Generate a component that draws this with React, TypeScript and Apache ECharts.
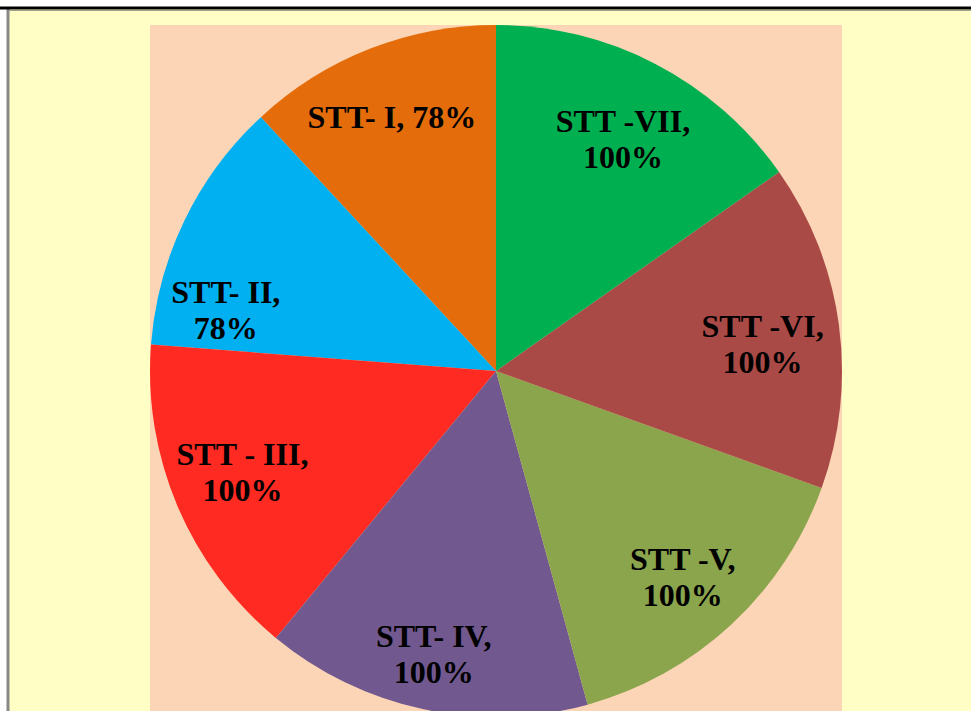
import React, { useEffect, useRef } from "react";
import * as echarts from "echarts";

const categories = ["STT- I", "STT- II", "STT - III", "STT- IV", "STT -V", "STT -VI", "STT -VII"];
const values = [78, 78, 100, 100, 100, 100, 100];
const sliceColors = ["#E46C0A", "#00B0F0", "#FF2A22", "#71588F", "#8BA54D", "#AA4A46", "#00B050"];

export default function App() {
  const ref = useRef<HTMLDivElement>(null);
  useEffect(() => {
    if (!ref.current) return;
    const chart = echarts.init(ref.current, null, { renderer: "svg" });
    const data = categories.map((name, i) => ({ name, value: values[i], itemStyle: { color: sliceColors[i] } }));
    const labelOffsets: Record<number, number[]> = { 0: [-6, -4], 1: [-28, 56], 2: [-6, -4], 3: [-6, 20], 4: [4, 9], 5: [0, 9], 6: [3, 7] };
    const labelData = categories.map((name, i) => ({
      name,
      value: values[i],
      itemStyle: { color: "rgba(0,0,0,0)" },
      label: labelOffsets[i] ? { offset: labelOffsets[i] } : {},
    }));
    chart.setOption({
      animation: false,
      backgroundColor: "#FFFFFF",
      graphic: [
        { type: "rect", shape: { x: 8, y: 8, width: 980, height: 720 }, style: { fill: "#FFFFC5" }, z: -10 },
        { type: "rect", shape: { x: 150, y: 25, width: 692, height: 700 }, style: { fill: "#FBD5B5" }, z: -9 },
        { type: "line", shape: { x1: 8, y1: 9, x2: 8, y2: 720 }, style: { stroke: "#888888", lineWidth: 3 }, z: 10 },
        { type: "line", shape: { x1: 0, y1: 8, x2: 971, y2: 8 }, style: { stroke: "#000000", lineWidth: 3 }, z: 10 },
        { type: "line", shape: { x1: 9, y1: 10.5, x2: 971, y2: 10.5 }, style: { stroke: "#A0A090", lineWidth: 1 }, z: 10 },
      ],
      series: [
        {
          type: "pie",
          center: [496, 371],
          radius: [0, 346],
          startAngle: 90,
          clockwise: false,
          label: { show: false },
          labelLine: { show: false },
          emphasis: { disabled: true },
          data,
        },
        {
          type: "pie",
          center: [496, 371],
          radius: [186, 346],
          startAngle: 90,
          clockwise: false,
          silent: true,
          emphasis: { disabled: true },
          labelLine: { show: false },
          label: {
            show: true,
            position: "inside",
            color: "#000000",
            fontFamily: "'Liberation Serif', 'Times New Roman', serif",
            fontWeight: "bold",
            fontSize: 32,
            lineHeight: 36,
            align: "center",
            formatter: (p: any) => (p.dataIndex === 0 ? `${p.name}, ${p.value}%` : `${p.name},\n${p.value}%`),
          },
          data: labelData,
        },
      ],
    });
    return () => chart.dispose();
  }, []);
  return <div ref={ref} style={{ position: "fixed", left: 0, top: 0, width: 971, height: 711 }} />;
}
